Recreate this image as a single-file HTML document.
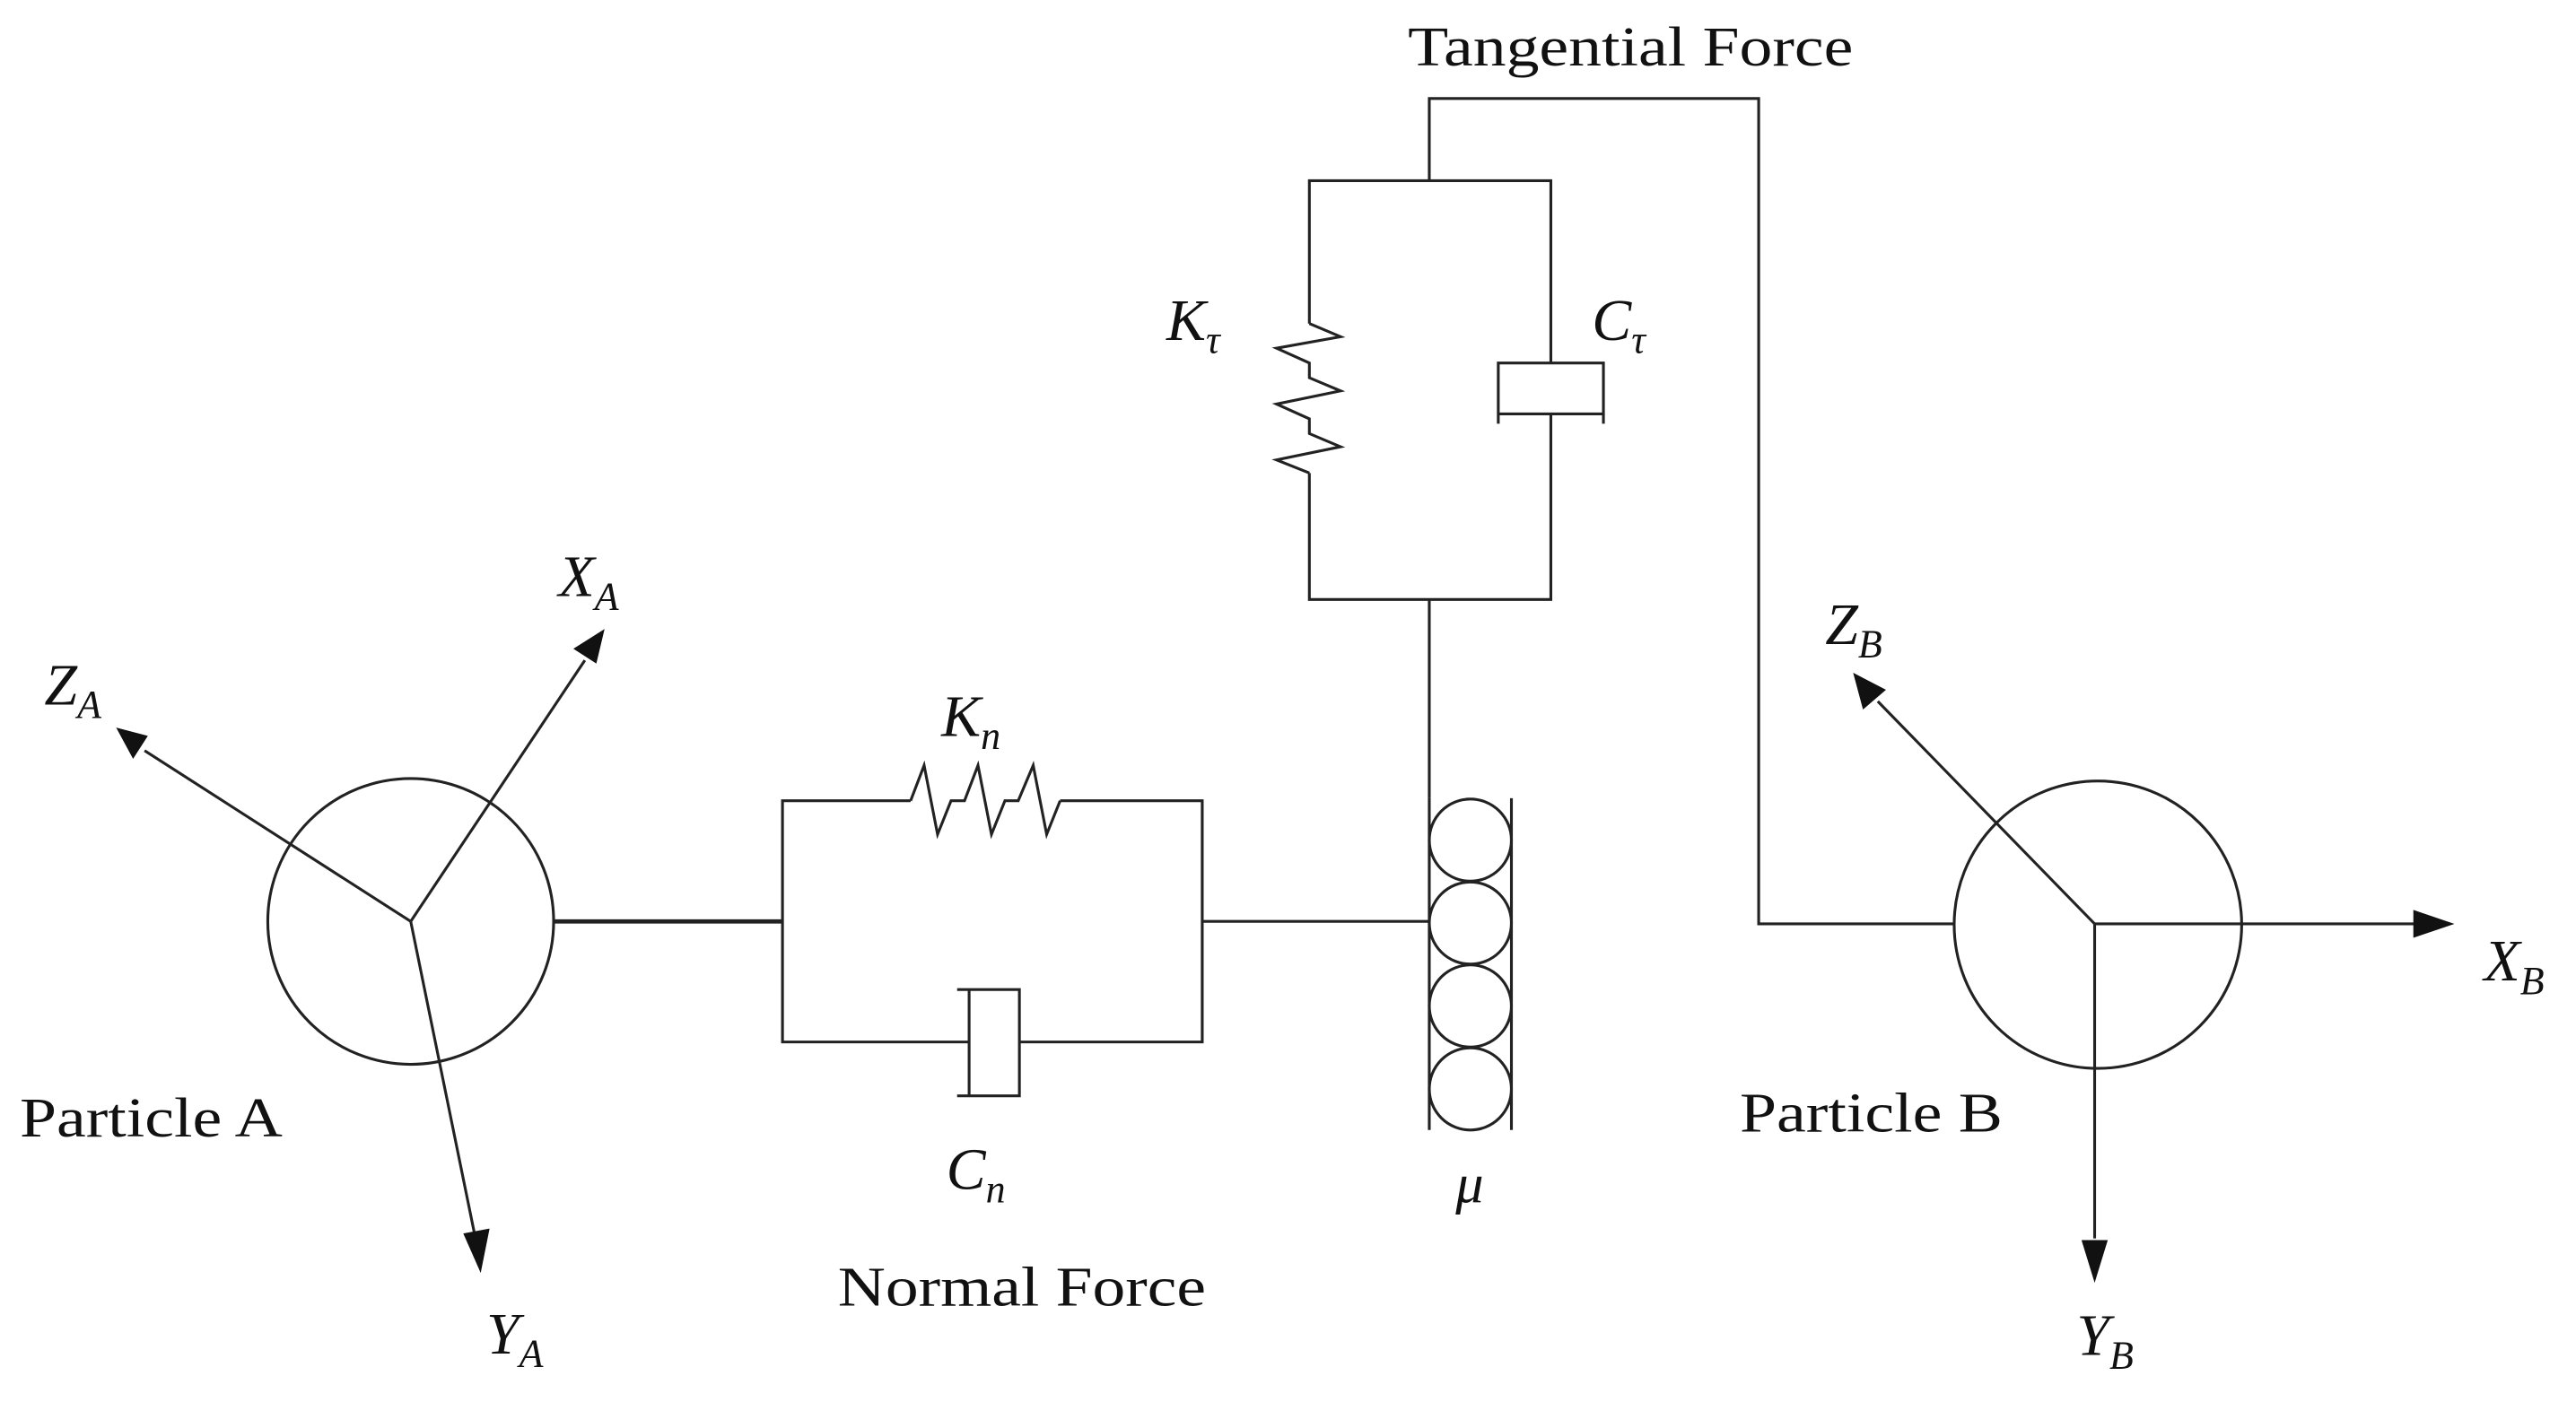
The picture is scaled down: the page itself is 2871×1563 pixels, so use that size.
<!DOCTYPE html>
<html><head><meta charset="utf-8"><style>
html,body{margin:0;padding:0;background:#fff;}
svg{display:block;}
text{font-family:"Liberation Serif",serif;fill:#111;}
.it{font-style:italic;}
</style></head><body>
<svg width="2871" height="1563" viewBox="0 0 1568 853.6" preserveAspectRatio="none" xmlns="http://www.w3.org/2000/svg">
<g fill="none" stroke="#222" stroke-width="1.7">
<circle cx="250" cy="561" r="87"/>
<line x1="250" y1="561" x2="356" y2="402"/>
<line x1="250" y1="561" x2="88" y2="457"/>
<line x1="250" y1="561" x2="289" y2="752"/>
<line x1="337" y1="561" x2="476" y2="561" stroke-width="2.6"/>
<polyline points="554.3,487.5 476.3,487.5 476.3,634.4 589.9,634.4"/>
<polyline points="645.3,487.5 731.8,487.5 731.8,634.4 620.5,634.4"/>
<polyline points="554.3,487.5 562.5,466 570.7,508 578.9,487.5 587.1,487.5 595.3,466 603.5,508 611.7,487.5 619.8,487.5 628.9,466 637.1,508 645.3,487.5"/>
<polyline points="582.6,602.5 620.5,602.5 620.5,667.2 582.6,667.2"/>
<line x1="589.9" y1="602.5" x2="589.9" y2="667.2"/>
<line x1="731.8" y1="561" x2="870" y2="561"/>
<circle cx="895" cy="511.5" r="25"/>
<circle cx="895" cy="562" r="25"/>
<circle cx="895" cy="612.5" r="25"/>
<circle cx="895" cy="663" r="25"/>
<line x1="870" y1="486" x2="870" y2="688"/>
<line x1="920" y1="486" x2="920" y2="688"/>
<line x1="870" y1="486" x2="870" y2="365"/>
<polyline points="870,110 870,60 1070.5,60 1070.5,562.5 1189.5,562.5"/>
<polyline points="797,197 797,110 944,110 944,221"/>
<polyline points="797,288 797,365 944,365 944,252"/>
<polyline points="797,197 816,205 777,212 797,221 797,230 816,238 777,246 797,255 797,264 816,272 777,280 797,288"/>
<polyline points="912,258 912,221 976,221 976,258"/>
<line x1="912" y1="252" x2="976" y2="252"/>
<circle cx="1277" cy="563" r="87.5"/>
<line x1="1275" y1="562.5" x2="1470" y2="562.5"/>
<line x1="1275" y1="562.5" x2="1275" y2="754"/>
<line x1="1275" y1="562.5" x2="1143" y2="427"/>
</g>
<g fill="#111">
<polygon points="368,383 349,395 363,404"/>
<polygon points="70.7,443 81,462 90,448"/>
<polygon points="292.6,775 282,751 298,748"/>
<polygon points="1494,562.5 1469,554 1469,571"/>
<polygon points="1275,781 1267,755 1283,755"/>
<polygon points="1128,409.6 1134,432 1148,420"/>
</g>
<text x="340" y="363" font-size="36" class="it">X<tspan font-size="24" dy="8">A</tspan></text>
<text x="27" y="429" font-size="36" class="it">Z<tspan font-size="24" dy="8">A</tspan></text>
<text x="296" y="824" font-size="36" class="it">Y<tspan font-size="24" dy="8">A</tspan></text>
<text x="12" y="692" font-size="34" textLength="160" lengthAdjust="spacingAndGlyphs">Particle A</text>
<text x="573" y="448" font-size="36" class="it">K<tspan font-size="24" dy="8">n</tspan></text>
<text x="576" y="724" font-size="36" class="it">C<tspan font-size="24" dy="8">n</tspan></text>
<text x="510" y="795" font-size="34" textLength="224" lengthAdjust="spacingAndGlyphs">Normal Force</text>
<text x="857" y="40" font-size="34" textLength="271" lengthAdjust="spacingAndGlyphs">Tangential Force</text>
<text x="710" y="207" font-size="36" class="it">K<tspan font-size="24" dy="8">τ</tspan></text>
<text x="969" y="207" font-size="36" class="it">C<tspan font-size="24" dy="8">τ</tspan></text>
<text x="886" y="732" font-size="34" class="it">μ</text>
<text x="1111" y="392" font-size="36" class="it">Z<tspan font-size="24" dy="8">B</tspan></text>
<text x="1512" y="597" font-size="36" class="it">X<tspan font-size="24" dy="8">B</tspan></text>
<text x="1264" y="825" font-size="36" class="it">Y<tspan font-size="24" dy="8">B</tspan></text>
<text x="1059" y="689" font-size="34" textLength="160" lengthAdjust="spacingAndGlyphs">Particle B</text>
</svg>
</body></html>
